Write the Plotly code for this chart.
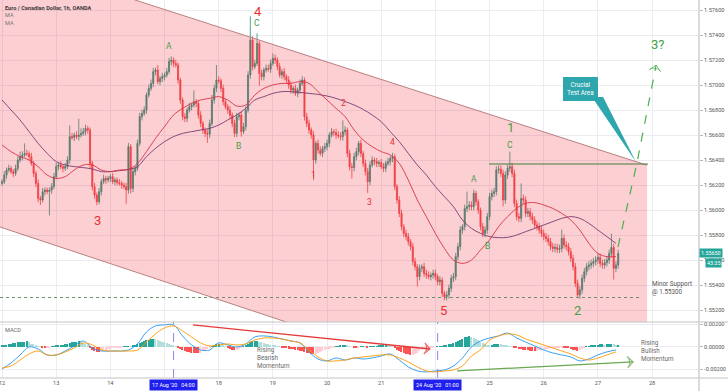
import plotly.graph_objects as go

# ---------------- DATA ----------------
DAY_LABELS = ["12", "13", "14", "17", "18", "19", "20", "21", "24", "25", "26", "27", "28"]
DAY_START = [0, 24, 48, 72, 96, 120, 144, 168, 192, 216, 240, 264, 288]  # trading-hour index
X_RANGE = [-0.9, 308.8]

OPEN_FIRST = 1.56213
CLOSE = [
    1.56227, 1.56280, 1.56320, 1.56333, 1.56307, 1.56293, 1.56333, 1.56400, 1.56427, 1.56440, 1.56453, 1.56450,
    1.56427, 1.56373, 1.56293, 1.56213, 1.56093, 1.56080, 1.56147, 1.56160, 1.56147, 1.56160, 1.56187, 1.56267,
    1.56347, 1.56360, 1.56347, 1.56333, 1.56347, 1.56400, 1.56587, 1.56581, 1.56600, 1.56587, 1.56600, 1.56613,
    1.56627, 1.56653, 1.56640, 1.56373, 1.56187, 1.56120, 1.56067, 1.56147, 1.56227, 1.56253, 1.56240, 1.56253,
    1.56267, 1.56227, 1.56240, 1.56219, 1.56213, 1.56200, 1.56187, 1.56160, 1.56507, 1.56173, 1.56307, 1.56333,
    1.56533, 1.56747, 1.56773, 1.56800, 1.56920, 1.56973, 1.57013, 1.57107, 1.57120, 1.57027, 1.57053, 1.57067,
    1.57080, 1.57107, 1.57187, 1.57200, 1.57173, 1.57160, 1.57040, 1.56880, 1.56747, 1.56733, 1.56800, 1.56827,
    1.56840, 1.56867, 1.56853, 1.56760, 1.56693, 1.56640, 1.56613, 1.56607, 1.56693, 1.56880, 1.56973, 1.57040,
    1.57033, 1.56973, 1.56867, 1.56827, 1.56800, 1.56760, 1.56693, 1.56613, 1.56747, 1.56760, 1.56627, 1.56667,
    1.56800, 1.57080, 1.57360, 1.57147, 1.57173, 1.57333, 1.57093, 1.57067, 1.57120, 1.57133, 1.57127, 1.57173,
    1.57213, 1.57200, 1.57147, 1.57080, 1.57107, 1.57067, 1.57040, 1.57000, 1.56960, 1.56973, 1.56933, 1.56960,
    1.57013, 1.57040, 1.56747, 1.56693, 1.56640, 1.56600, 1.56400, 1.56533, 1.56480, 1.56453, 1.56493, 1.56507,
    1.56533, 1.56600, 1.56627, 1.56620, 1.56600, 1.56593, 1.56587, 1.56627, 1.56640, 1.56453, 1.56347, 1.56340,
    1.56427, 1.56467, 1.56533, 1.56453, 1.56373, 1.56307, 1.56227, 1.56360, 1.56400, 1.56387, 1.56373, 1.56379,
    1.56347, 1.56333, 1.56373, 1.56387, 1.56413, 1.56427, 1.56187, 1.56080, 1.55973, 1.55867, 1.55813, 1.55787,
    1.55747, 1.55707, 1.55587, 1.55547, 1.55467, 1.55533, 1.55547, 1.55493, 1.55480, 1.55467, 1.55480, 1.55493,
    1.55467, 1.55427, 1.55440, 1.55333, 1.55307, 1.55320, 1.55373, 1.55453, 1.55467, 1.55627, 1.55707, 1.55840,
    1.55867, 1.56013, 1.56027, 1.56040, 1.56027, 1.56133, 1.56067, 1.56000, 1.55867, 1.55813, 1.55840, 1.55947,
    1.56107, 1.56133, 1.56147, 1.56320, 1.56327, 1.56293, 1.56080, 1.56280, 1.56333, 1.56347, 1.56293, 1.56053,
    1.55947, 1.55933, 1.56093, 1.56080, 1.55973, 1.55987, 1.55947, 1.55920, 1.55880, 1.55867, 1.55840, 1.55813,
    1.55787, 1.55773, 1.55747, 1.55707, 1.55693, 1.55700, 1.55685, 1.55693, 1.55773, 1.55720, 1.55707, 1.55667,
    1.55613, 1.55547, 1.55413, 1.55320, 1.55360, 1.55453, 1.55507, 1.55547, 1.55560, 1.55573, 1.55587, 1.55600,
    1.55621, 1.55573, 1.55560, 1.55579, 1.55600, 1.55653, 1.55701, 1.55533, 1.55560, 1.55653,
]
# wick lengths in pips (0.0001) above / below the candle body
UP_WICK = [
    2, 3, 2, 3, 2, 2, 3, 3, 4, 3, 8, 3, 2, 3, 2, 2, 3, 2, 3, 2, 2, 2, 3, 3,
    3, 2, 3, 2, 3, 3, 9, 3, 2, 3, 13, 4, 3, 3, 2, 2, 2, 3, 2, 3, 2, 3, 2, 2,
    2, 3, 2, 2, 3, 2, 2, 3, 3, 2, 3, 2, 3, 3, 3, 3, 2, 3, 3, 3, 2, 4, 2, 3,
    2, 3, 3, 3, 2, 3, 2, 2, 2, 3, 2, 3, 2, 9, 2, 2, 3, 2, 2, 3, 3, 4, 3, 12,
    3, 2, 3, 2, 2, 3, 2, 3, 3, 2, 3, 3, 3, 3, 19, 3, 3, 8, 2, 3, 2, 3, 3, 3,
    4, 3, 2, 3, 2, 3, 2, 3, 3, 2, 3, 2, 3, 3, 2, 3, 3, 2, 3, 2, 3, 3, 2, 3,
    3, 2, 3, 2, 3, 3, 3, 9, 3, 2, 3, 3, 3, 3, 2, 3, 2, 3, 3, 3, 3, 2, 3, 2,
    3, 3, 2, 3, 2, 3, 2, 2, 3, 3, 2, 3, 3, 2, 3, 3, 2, 3, 2, 3, 3, 3, 2, 3,
    3, 2, 3, 2, 2, 3, 3, 3, 3, 3, 3, 3, 2, 3, 12, 3, 3, 3, 2, 2, 2, 3, 3, 3,
    3, 3, 3, 3, 3, 3, 3, 3, 3, 12, 3, 3, 3, 3, 12, 3, 3, 3, 3, 3, 3, 3, 3, 3,
    3, 3, 3, 3, 3, 3, 3, 3, 7, 3, 3, 3, 3, 3, 3, 3, 3, 3, 3, 3, 3, 3, 3, 3,
    3, 3, 3, 3, 3, 3, 11, 3, 3, 3,
]
LO_WICK = [
    2, 2, 3, 2, 2, 3, 2, 2, 2, 3, 2, 2, 3, 2, 3, 3, 3, 4, 2, 3, 2, 19, 3, 2,
    2, 3, 2, 3, 2, 2, 3, 2, 3, 2, 3, 2, 2, 3, 3, 4, 3, 3, 3, 2, 3, 2, 3, 2,
    3, 2, 3, 2, 2, 3, 2, 11, 3, 4, 3, 3, 2, 2, 3, 2, 3, 2, 2, 3, 3, 2, 3, 3,
    3, 2, 2, 3, 3, 2, 3, 3, 3, 3, 3, 2, 3, 2, 3, 3, 3, 3, 3, 7, 3, 2, 3, 3,
    2, 3, 3, 2, 3, 3, 3, 3, 3, 3, 4, 2, 3, 2, 3, 3, 2, 2, 10, 3, 3, 2, 2, 3,
    2, 3, 3, 2, 3, 3, 3, 3, 3, 3, 2, 3, 3, 2, 3, 3, 3, 3, 16, 3, 3, 2, 3, 3,
    3, 3, 2, 3, 3, 2, 3, 3, 3, 3, 3, 9, 3, 3, 3, 3, 3, 3, 9, 3, 2, 3, 3, 3,
    2, 3, 3, 2, 3, 3, 3, 3, 3, 3, 3, 3, 3, 3, 3, 3, 8, 3, 3, 3, 3, 2, 3, 3,
    3, 3, 3, 3, 3, 3, 3, 3, 3, 3, 3, 3, 3, 3, 3, 3, 3, 3, 3, 3, 3, 3, 3, 3,
    3, 3, 3, 3, 3, 3, 5, 3, 3, 3, 3, 3, 3, 3, 3, 3, 3, 3, 3, 3, 3, 3, 3, 3,
    3, 3, 3, 3, 3, 3, 3, 3, 3, 3, 3, 3, 3, 3, 3, 2, 3, 3, 3, 3, 3, 3, 3, 3,
    3, 3, 3, 3, 3, 3, 3, 9, 3, 3,
]

# moving averages / MACD lines sampled every 4 trading hours
LINE_IDX = list(range(0, 273, 4))
FAST_MA = [
    1.56520, 1.56467, 1.56427, 1.56400, 1.56347, 1.56280, 1.56253, 1.56267, 1.56320, 1.56360, 1.56360, 1.56320,
    1.56307, 1.56320, 1.56325, 1.56373, 1.56467, 1.56573, 1.56667, 1.56760, 1.56813, 1.56853, 1.56880, 1.56893,
    1.56907, 1.56880, 1.56832, 1.56840, 1.56920, 1.56973, 1.57000, 1.57013, 1.57013, 1.57027, 1.57013, 1.56947,
    1.56880, 1.56813, 1.56747, 1.56640, 1.56560, 1.56507, 1.56467, 1.56440, 1.56373, 1.56240, 1.56080, 1.55947,
    1.55813, 1.55693, 1.55600, 1.55573, 1.55600, 1.55680, 1.55760, 1.55867, 1.55947, 1.56013, 1.56053, 1.56059,
    1.56040, 1.56013, 1.55973, 1.55920, 1.55840, 1.55733, 1.55653, 1.55627, 1.55627,
]
SLOW_MA = [
    1.56880, 1.56800, 1.56720, 1.56627, 1.56533, 1.56453, 1.56387, 1.56360, 1.56347, 1.56339, 1.56328, 1.56307,
    1.56307, 1.56315, 1.56325, 1.56347, 1.56427, 1.56493, 1.56547, 1.56587, 1.56613, 1.56627, 1.56640, 1.56653,
    1.56680, 1.56720, 1.56760, 1.56813, 1.56880, 1.56907, 1.56933, 1.56947, 1.56947, 1.56941, 1.56933, 1.56925,
    1.56912, 1.56893, 1.56867, 1.56840, 1.56805, 1.56760, 1.56707, 1.56627, 1.56547, 1.56453, 1.56360, 1.56280,
    1.56187, 1.56107, 1.56027, 1.55920, 1.55853, 1.55813, 1.55787, 1.55779, 1.55781, 1.55800, 1.55827, 1.55853,
    1.55880, 1.55907, 1.55933, 1.55947, 1.55933, 1.55893, 1.55840, 1.55787, 1.55733,
]
MACD_LINE = [v * 1e-5 for v in [
    -196, -142, -71, 0, -18, -71, -71, -36, 9, 53, -9, -36, -36, -36, -27, 27, 133, 187, 196, 196, 98, 18, -27,
    -27, 36, 18, 0, 27, 89, 98, 89, 71, 53, 36, -44, -107, -124, -98, -116, -98, -107, -98, -80, -62, -116, -178,
    -213, -222, -213, -204, -169, -98, 0, 53, 80, 98, 124, 80, 44, 9, -27, -53, -71, -89, -124, -107, -71, -44, -27]]
SIGNAL_LINE = [v * 1e-5 for v in [
    -187, -169, -116, -62, -36, -71, -71, -44, -9, 36, 18, -27, -36, -36, -36, -27, 44, 116, 169, 187, 142, 89, 36,
    9, 18, 27, 18, 27, 62, 80, 80, 71, 53, 36, -27, -89, -124, -124, -116, -98, -89, -80, -71, -71, -98, -133,
    -178, -213, -222, -213, -204, -169, -80, -27, 62, 98, 116, 107, 71, 44, 18, -9, -36, -62, -98, -116, -98, -71, -44]]
HIST = [v * 1e-5 for v in [
    10, 15, 20, 25, 30, 35, 38, 40, 42, 45, 48, 50, 40, 30, 22, 15, 8, 3, -2, -4, -3, -2, 2, 5,
    10, 14, 18, 20, 22, 25, 35, 40, 44, 48, 50, 45, 38, 30, 20, -10, -25, -35, -42, -45, -40, -34, -28, -22,
    -16, -10, -6, -3, -2, -1, 1, 2, 8, 6, 10, 18, 25, 35, 45, 55, 60, 65, 70, 72, 68, 62, 55, 48,
    40, 32, 25, 18, 10, 3, -8, -18, -28, -35, -42, -48, -50, -52, -55, -58, -50, -40, -30, -20, -8, 5, 15, 22,
    25, 20, 12, 4, -5, -15, -25, -30, -25, -15, -8, 5, 15, 30, 45, 50, 52, 55, 48, 40, 35, 30, 25, 20,
    15, 10, 5, 2, -2, -5, -10, -15, -18, -22, -25, -30, -35, -40, -45, -52, -58, -62, -65, -60, -50, -42, -35, -28,
    -20, -14, -8, -2, 4, 8, 12, 15, 18, 10, 4, 0, -3, -4, -2, 2, 4, 3, -2, 2, 5, 6, 8, 10,
    12, 14, 15, 14, 12, 5, -10, -25, -35, -45, -55, -60, -65, -70, -68, -62, -50, -40, -30, -22, -15, -8, -3, -1,
    0, 2, 3, 5, 10, 15, 22, 28, 35, 45, 55, 65, 75, 85, 90, 95, 92, 80, 70, 60, 45, 35, 25, 20,
    18, 20, 22, 24, 25, 22, 18, 14, 10, 6, 2, -5, -12, -18, -22, -25, -28, -30, -32, -34, -35, -33, -30, -28,
    -25, -20, -15, -12, -10, -8, -6, -4, -2, -3, -6, -12, -18, -24, -30, -32, -25, -15, -6, 2, 8, 12, 16, 18,
    20, 22, 22, 20, 22, 24, 26, 22, 20, 20]]

# analyst drawings (hour index, price)
CHANNEL_FILL = [(-0.9, 1.58029), (285.8, 1.56358), (285.8, 1.54146), (-0.9, 1.55864)]
CHANNEL_UPPER = [(-0.9, 1.58029), (285.8, 1.56358)]
CHANNEL_LOWER = [(-0.9, 1.55864), (285.8, 1.54146)]
RESIST_LINE = [(215.8, 1.56368), (286.2, 1.56368)]
SUPPORT_LEVEL = 1.55300
SUPPORT_SPAN = [-0.9, 283.6]
PROJECTION = [(272.9, 1.55704), (281.3, 1.56376), (289.8, 1.57160)]
CALLOUT_POINTER = [(261.4, 1.56904), (266.3, 1.56904), (280.9, 1.56384)]
CALLOUT_POS = (256.1, 1.56972)
BEAR_ARROW = [(84.6, 0.00196), (189.6, -0.00018)]
BULL_ARROW = [(201.6, -0.00213), (279.6, -0.00133)]
MARKED_TIMES = [(76, "17 Aug '20   04:00"), (193, "24 Aug '20   01:00")]
LAST_PRICE_TEXT = "1.55650"
LAST_PRICE = 1.55660
COUNTDOWN = "43:35"

RED, GREEN = "#e8312f", "#43a047"
WAVE_LABELS = [
    ("3", 42.5, 1.55920, RED, 13), ("A", 74.0, 1.57312, GREEN, 8.5), ("4", 113.4, 1.57592, RED, 13),
    ("C", 113.0, 1.57496, GREEN, 8.5), ("B", 104.6, 1.56512, GREEN, 8.5), ("1", 137.8, 1.56280, RED, 8.5),
    ("2", 151.1, 1.56856, RED, 8.5), ("3", 162.6, 1.56064, RED, 8.5), ("4", 172.8, 1.56544, RED, 8.5),
    ("5", 195.4, 1.55200, RED, 13), ("A", 209.1, 1.56248, GREEN, 8.5), ("B", 214.9, 1.55712, GREEN, 8.5),
    ("1", 225.1, 1.56664, GREEN, 13), ("C", 225.1, 1.56520, GREEN, 8.5), ("2", 254.8, 1.55200, GREEN, 13),
    ("3?", 290.2, 1.57328, GREEN, 13),
]

# ---------------- LAYOUT HELPERS ----------------
W, H = 728, 391
ML, MR, MT, MB = 0, 29, 0, 13
PW, PH = W - ML - MR, H - MT - MB
PRICE_BOTTOM = 322
SPLIT = 1 - PRICE_BOTTOM / PH
FONT = "Roboto, Open Sans, sans-serif"


def ppy(px):
    return 1 - px / PH


def ppx(px):
    return px / PW


hours = list(range(len(CLOSE)))
opens = [OPEN_FIRST] + CLOSE[:-1]
highs = [max(o, c) + u * 1e-4 for o, c, u in zip(opens, CLOSE, UP_WICK)]
lows = [min(o, c) - d * 1e-4 for o, c, d in zip(opens, CLOSE, LO_WICK)]

hist_colors = []
prev = 0
for h in HIST:
    if h >= 0:
        hist_colors.append("#26a69a" if h >= prev else "#b2dfdb")
    else:
        hist_colors.append("#ff5252" if h <= prev else "#ffcdd2")
    prev = h

fig = go.Figure()

# channel
fig.add_trace(go.Scatter(x=[p[0] for p in CHANNEL_FILL], y=[p[1] for p in CHANNEL_FILL], fill="toself",
                         fillcolor="rgba(242,54,69,0.24)", line=dict(width=0), mode="lines", hoverinfo="skip"))
for seg in (CHANNEL_UPPER, CHANNEL_LOWER):
    fig.add_trace(go.Scatter(x=[p[0] for p in seg], y=[p[1] for p in seg], mode="lines",
                             line=dict(color="#b98080", width=1), hoverinfo="skip"))
# support dotted
fig.add_trace(go.Scatter(x=SUPPORT_SPAN, y=[SUPPORT_LEVEL] * 2, mode="lines",
                         line=dict(color="#6f8f6f", width=1, dash="dot"), hoverinfo="skip"))
# resistance line
fig.add_trace(go.Scatter(x=[p[0] for p in RESIST_LINE], y=[p[1] for p in RESIST_LINE], mode="lines",
                         line=dict(color="#3f7f3a", width=1.2), hoverinfo="skip"))

# candles
fig.add_trace(go.Candlestick(x=hours, open=opens, high=highs, low=lows, close=CLOSE,
                             increasing=dict(line=dict(color="#2a8f78", width=0.8), fillcolor="#2a8f78"),
                             decreasing=dict(line=dict(color="#ef4444", width=0.8), fillcolor="#ef4444"),
                             whiskerwidth=0, hoverinfo="skip"))
# MAs
fig.add_trace(go.Scatter(x=LINE_IDX, y=SLOW_MA, mode="lines", line=dict(color="#7a3a70", width=0.9, shape="spline"),
                         hoverinfo="skip"))
fig.add_trace(go.Scatter(x=LINE_IDX, y=FAST_MA, mode="lines", line=dict(color="#d93344", width=0.9, shape="spline"),
                         hoverinfo="skip"))

# projection
fig.add_trace(go.Scatter(x=[p[0] for p in PROJECTION], y=[p[1] for p in PROJECTION], mode="lines",
                         line=dict(color="#4caf50", width=1.2, dash="dash"), hoverinfo="skip"))
fig.add_trace(go.Scatter(x=[p[0] for p in PROJECTION[-2:]], y=[p[1] for p in PROJECTION[-2:]], mode="markers",
                         marker=dict(symbol="arrow-wide-open", size=[0, 8], angleref="previous",
                                     color="#4caf50", line=dict(color="#4caf50", width=1)), hoverinfo="skip"))
# callout pointer
fig.add_trace(go.Scatter(x=[p[0] for p in CALLOUT_POINTER], y=[p[1] for p in CALLOUT_POINTER], fill="toself",
                         fillcolor="#2ea6ad", line=dict(width=0, color="#2ea6ad"), mode="lines", hoverinfo="skip"))

# MACD pane
fig.add_trace(go.Bar(x=hours, y=HIST, marker=dict(color=hist_colors, line=dict(width=0)), width=0.6,
                     xaxis="x2", yaxis="y2", hoverinfo="skip"))
fig.add_trace(go.Scatter(x=LINE_IDX, y=MACD_LINE, mode="lines", line=dict(color="#2196f3", width=0.9, shape="spline"),
                         xaxis="x2", yaxis="y2", hoverinfo="skip"))
fig.add_trace(go.Scatter(x=LINE_IDX, y=SIGNAL_LINE, mode="lines",
                         line=dict(color="#ff9800", width=0.9, shape="spline"),
                         xaxis="x2", yaxis="y2", hoverinfo="skip"))
for arr, col in ((BEAR_ARROW, "#e53935"), (BULL_ARROW, "#6aa84f")):
    fig.add_trace(go.Scatter(x=[p[0] for p in arr], y=[p[1] for p in arr], mode="lines+markers",
                             line=dict(color=col, width=1.3),
                             marker=dict(symbol="arrow-wide-open", size=[0, 8], angleref="previous", color=col,
                                         line=dict(color=col, width=1.2)),
                             xaxis="x2", yaxis="y2", hoverinfo="skip"))

annotations = []
for txt, xi, yp, col, sz in WAVE_LABELS:
    annotations.append(dict(x=xi, y=yp, xref="x", yref="y", text=txt, showarrow=False,
                            font=dict(color=col, size=sz, family=FONT)))
annotations.append(dict(x=CALLOUT_POS[0], y=CALLOUT_POS[1], xref="x", yref="y", text="Crucial<br>Test Area",
                        showarrow=False, bgcolor="#2ea6ad", bordercolor="#2ea6ad", borderpad=3,
                        font=dict(color="white", size=6.3, family=FONT)))
annotations.append(dict(x=ppx(650), y=ppy(288), xref="paper", yref="paper", xanchor="left", yanchor="middle",
                        text="Minor Support<br>@ 1.55300", align="left", showarrow=False,
                        font=dict(color="#555555", size=6.3, family=FONT)))
annotations.append(dict(x=ppx(255), y=ppy(358), xref="paper", yref="paper", xanchor="left", yanchor="middle",
                        text="Rising<br>Bearish<br>Momentum", align="left", showarrow=False,
                        font=dict(color="#6b6b6b", size=6.3, family=FONT)))
annotations.append(dict(x=ppx(639), y=ppy(351), xref="paper", yref="paper", xanchor="left", yanchor="middle",
                        text="Rising<br>Bullish<br>Momentum", align="left", showarrow=False,
                        font=dict(color="#6b6b6b", size=6.3, family=FONT)))
annotations.append(dict(x=ppx(3), y=ppy(7.5), xref="paper", yref="paper", xanchor="left", yanchor="middle",
                        text="<b>Euro / Canadian Dollar, 1h, OANDA</b>", showarrow=False,
                        font=dict(color="#3a3a3a", size=5.6, family=FONT)))
for yy in (15, 22.5):
    annotations.append(dict(x=ppx(3), y=ppy(yy), xref="paper", yref="paper", xanchor="left", yanchor="middle",
                            text="MA", showarrow=False, font=dict(color="#777777", size=5.6, family=FONT)))
annotations.append(dict(x=ppx(3), y=ppy(330), xref="paper", yref="paper", xanchor="left", yanchor="middle",
                        text="MACD", showarrow=False, font=dict(color="#666666", size=5.6, family=FONT)))
for xi, txt in MARKED_TIMES:
    annotations.append(dict(x=xi, y=ppy(385), xref="x2", yref="paper", yanchor="middle", text=txt,
                            showarrow=False, bgcolor="#2020ee", borderpad=2,
                            font=dict(color="white", size=5.4, family=FONT)))
annotations.append(dict(x=1.0, y=LAST_PRICE, xref="paper", yref="y", xanchor="left", yanchor="middle",
                        text=LAST_PRICE_TEXT, showarrow=False, bgcolor="#26a69a", borderpad=1,
                        font=dict(color="white", size=5.4, family=FONT)))
annotations.append(dict(x=ppx(705), y=LAST_PRICE - 0.0008, xref="paper", yref="y", xanchor="left",
                        yanchor="middle", text=COUNTDOWN, showarrow=False, bgcolor="#26a69a", borderpad=1,
                        font=dict(color="white", size=5.4, family=FONT)))

shapes = []
for xi, _ in MARKED_TIMES:
    shapes.append(dict(type="line", xref="x2", yref="paper", x0=xi, x1=xi, y0=0, y1=SPLIT,
                       line=dict(color="#8a8ae8", width=1, dash="dash")))
for ypx in (PRICE_BOTTOM, PH):
    shapes.append(dict(type="line", xref="paper", yref="paper", x0=0, x1=W / PW, y0=ppy(ypx), y1=ppy(ypx),
                       line=dict(color="#c4c4c4", width=1.2)))
shapes.append(dict(type="line", xref="paper", yref="paper", x0=1, x1=1, y0=ppy(H), y1=1,
                   line=dict(color="#cfcfcf", width=1.5)))

grid = "#ececf2"
tickfont = dict(color="#555555", size=5.6, family=FONT)
ticktext = [("" if d in ("17", "24") else d) for d in DAY_LABELS]

fig.update_layout(
    width=W, height=H, margin=dict(l=ML, r=MR, t=MT, b=MB),
    paper_bgcolor="white", plot_bgcolor="white", showlegend=False, bargap=0,
    annotations=annotations, shapes=shapes,
    xaxis=dict(domain=[0, 1], anchor="y", range=X_RANGE, tickvals=DAY_START, showticklabels=False,
               showgrid=True, gridcolor=grid, gridwidth=1, zeroline=False, showline=False, ticks="",
               rangeslider=dict(visible=False)),
    xaxis2=dict(domain=[0, 1], anchor="y2", range=X_RANGE, matches="x", tickvals=DAY_START, ticktext=ticktext,
                showgrid=True, gridcolor=grid, zeroline=False, showline=False, ticks="", tickfont=tickfont,
                ticklabeloverflow="allow"),
    yaxis=dict(domain=[SPLIT, 1], anchor="x", side="right", range=[1.55104, 1.5768],
               tickvals=[1.552 + 0.002 * k for k in range(13)], tickformat=".5f", showgrid=True, gridcolor=grid,
               zeroline=False, ticks="outside", ticklen=3, tickcolor="#bbbbbb", tickfont=tickfont),
    yaxis2=dict(domain=[0, SPLIT], anchor="x2", side="right", range=[-0.00276, 0.00222],
                tickvals=[-0.002, 0.0, 0.002], ticktext=["-0.00200", "0.00000", "0.00200"], showgrid=True,
                gridcolor=grid, zeroline=False, ticks="outside", ticklen=3, tickcolor="#bbbbbb", tickfont=tickfont),
)

fig.write_html("out.html")
